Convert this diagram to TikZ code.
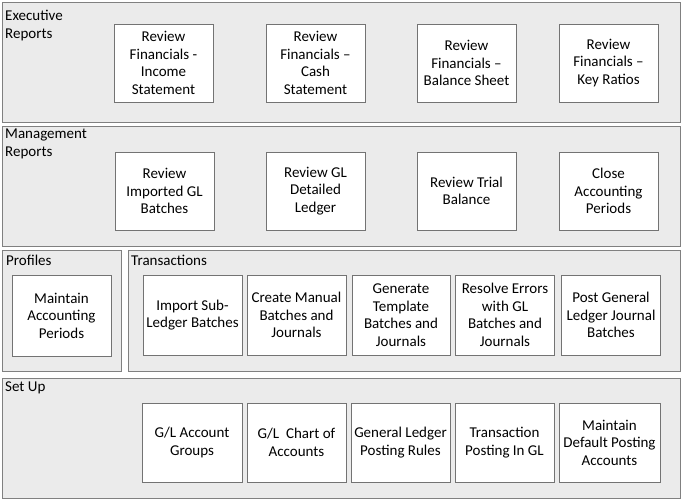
\documentclass[tikz,border=0pt]{standalone}
\usepackage{fontspec}
\setmainfont{Carlito}
\begin{document}
\begin{tikzpicture}[x=1pt,y=-1pt,
  grp/.style={draw=black!50, fill=black!8, line width=0.9pt, inner sep=0pt},
  box/.style={draw=black!55, fill=white, line width=0.9pt, inner sep=0pt, align=center,
    font=\fontsize{15}{17.5}\selectfont},
  lbl/.style={anchor=north west, inner sep=0pt, align=left,
    font=\fontsize{15}{17.5}\selectfont}]
\useasboundingbox (0,0) rectangle (682,501);
\fill[white] (0,0) rectangle (682,501);
% groups
\node[grp, minimum width=678pt, minimum height=120pt] (gexec) at (341,62) {};
\node[grp, minimum width=678pt, minimum height=120pt] (gman) at (341,186) {};
\node[grp, minimum width=119pt, minimum height=121pt] (gprof) at (61.5,310.5) {};
\node[grp, minimum width=552pt, minimum height=121pt] (gtrans) at (404,310.5) {};
\node[grp, minimum width=678pt, minimum height=120pt] (gset) at (341,438) {};
% group labels
\node[lbl] (lexec) at (5,10) {Executive\\Reports};
\node[lbl] (lman) at (5,129) {Management\\Reports};
\node[lbl] (lprof) at (6,255) {Profiles};
\node[lbl] (ltrans) at (131,255) {Transactions};
\node[lbl] (lset) at (5,382) {Set Up};
% executive
\node[box, minimum width=99pt, minimum height=78pt] (e1) at (163.5,63) {Review\\Financials -\\Income\\Statement};
\node[box, minimum width=99pt, minimum height=78pt] (e2) at (315.5,63) {Review\\Financials --\\Cash\\Statement};
\node[box, minimum width=99pt, minimum height=78pt] (e3) at (466.5,63) {Review\\Financials --\\Balance Sheet};
\node[box, minimum width=99pt, minimum height=78pt] (e4) at (608.5,63) {Review\\Financials --\\Key Ratios};
% management
\node[box, minimum width=99pt, minimum height=78pt] (m1) at (164.5,191) {Review\\Imported GL\\Batches};
\node[box, minimum width=99pt, minimum height=78pt] (m2) at (315.5,191) {Review GL\\Detailed\\Ledger};
\node[box, minimum width=99pt, minimum height=78pt] (m3) at (466.5,191) {Review Trial\\Balance};
\node[box, minimum width=99pt, minimum height=78pt] (m4) at (608.5,191) {Close\\Accounting\\Periods};
% profiles
\node[box, minimum width=99pt, minimum height=81pt] (p1) at (61.5,315.5) {Maintain\\Accounting\\Periods};
% transactions
\node[box, minimum width=99pt, minimum height=80pt] (t1) at (192.5,315) {Import Sub-\\Ledger Batches};
\node[box, minimum width=99pt, minimum height=80pt] (t2) at (296.5,315) {Create Manual\\Batches and\\Journals};
\node[box, minimum width=98pt, minimum height=80pt] (t3) at (401,315) {Generate\\Template\\Batches and\\Journals};
\node[box, minimum width=99pt, minimum height=80pt] (t4) at (505,315) {Resolve Errors\\with GL\\Batches and\\Journals};
\node[box, minimum width=99pt, minimum height=80pt] (t5) at (611,315) {Post General\\Ledger Journal\\Batches};
% set up
\node[box, minimum width=100pt, minimum height=79pt] (s1) at (192,442.5) {G/L Account\\Groups};
\node[box, minimum width=99pt, minimum height=79pt] (s2) at (296.5,442.5) {G/L\ \ Chart of\\Accounts};
\node[box, minimum width=99pt, minimum height=79pt] (s3) at (400.5,442.5) {General Ledger\\Posting Rules};
\node[box, minimum width=99pt, minimum height=79pt] (s4) at (504.5,442.5) {Transaction\\Posting In GL};
\node[box, minimum width=101pt, minimum height=79pt] (s5) at (609.5,442.5) {Maintain\\Default Posting\\Accounts};
\end{tikzpicture}
\end{document}
